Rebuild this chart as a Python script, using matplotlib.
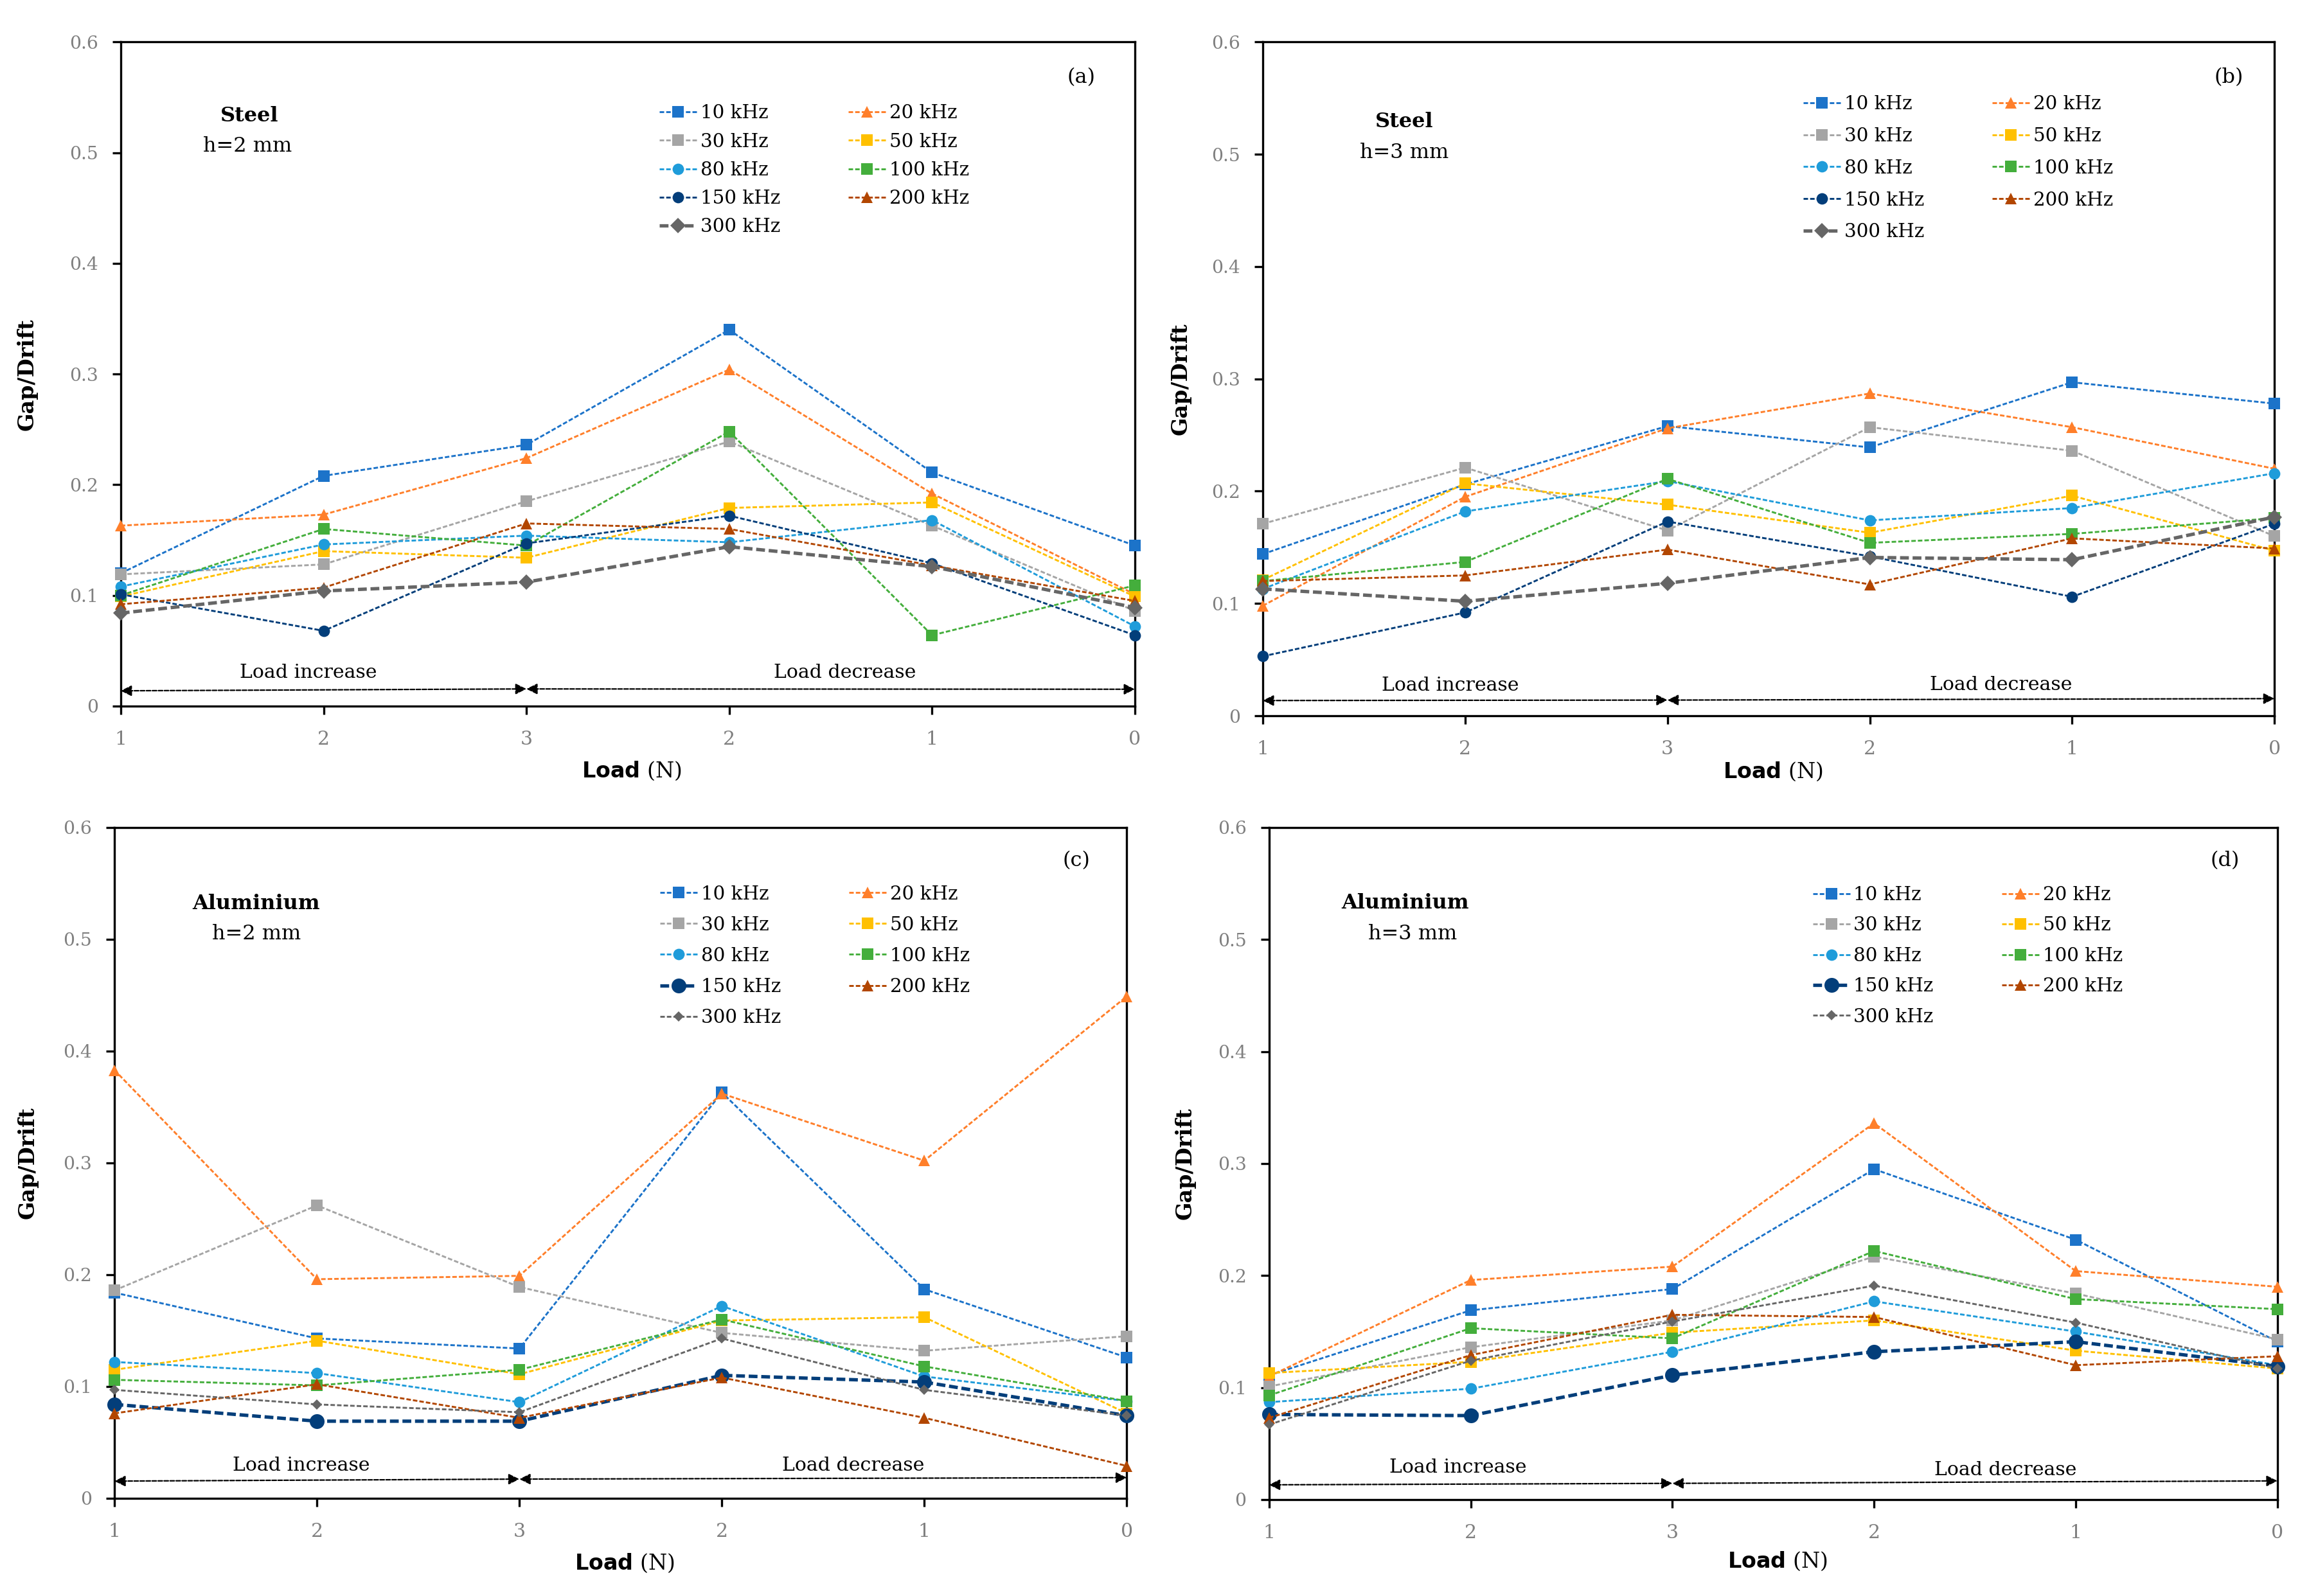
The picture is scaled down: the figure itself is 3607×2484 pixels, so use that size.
import matplotlib
matplotlib.use('Agg')
import matplotlib.pyplot as plt

plt.rcParams['font.family'] = ['DejaVu Serif']

# ---------------- data ----------------
x_labels = ['1', '2', '3', '2', '1', '0']
series_names = ['10 kHz', '20 kHz', '30 kHz', '50 kHz', '80 kHz',
                '100 kHz', '150 kHz', '200 kHz', '300 kHz']
ytick_vals = [0, 0.1, 0.2, 0.3, 0.4, 0.5, 0.6]
ytick_labels = ['0', '0.1', '0.2', '0.3', '0.4', '0.5', '0.6']

# (a) Steel h=2 mm
a10 = [0.120, 0.208, 0.236, 0.340, 0.211, 0.145]
a20 = [0.163, 0.173, 0.224, 0.304, 0.192, 0.101]
a30 = [0.119, 0.128, 0.185, 0.239, 0.163, 0.086]
a50 = [0.099, 0.140, 0.134, 0.179, 0.184, 0.099]
a80 = [0.108, 0.146, 0.154, 0.148, 0.168, 0.072]
a100 = [0.100, 0.160, 0.145, 0.248, 0.064, 0.109]
a150 = [0.101, 0.068, 0.147, 0.172, 0.129, 0.064]
a200 = [0.092, 0.107, 0.165, 0.160, 0.127, 0.095]
a300 = [0.084, 0.104, 0.112, 0.144, 0.126, 0.089]

# (b) Steel h=3 mm
b10 = [0.144, 0.206, 0.258, 0.239, 0.297, 0.278]
b20 = [0.098, 0.195, 0.256, 0.287, 0.257, 0.220]
b30 = [0.171, 0.221, 0.165, 0.257, 0.236, 0.160]
b50 = [0.121, 0.207, 0.188, 0.163, 0.196, 0.147]
b80 = [0.113, 0.182, 0.209, 0.174, 0.185, 0.216]
b100 = [0.120, 0.137, 0.211, 0.154, 0.162, 0.176]
b150 = [0.053, 0.092, 0.173, 0.142, 0.106, 0.171]
b200 = [0.120, 0.125, 0.148, 0.117, 0.158, 0.149]
b300 = [0.113, 0.102, 0.118, 0.141, 0.139, 0.177]

# (c) Aluminium h=2 mm
c10 = [0.184, 0.143, 0.134, 0.363, 0.187, 0.126]
c20 = [0.383, 0.196, 0.199, 0.362, 0.302, 0.449]
c30 = [0.186, 0.262, 0.189, 0.148, 0.132, 0.145]
c50 = [0.115, 0.141, 0.111, 0.159, 0.162, 0.076]
c80 = [0.122, 0.112, 0.086, 0.172, 0.109, 0.087]
c100 = [0.106, 0.101, 0.115, 0.160, 0.118, 0.087]
c150 = [0.084, 0.069, 0.069, 0.110, 0.104, 0.074]
c200 = [0.076, 0.102, 0.072, 0.108, 0.072, 0.029]
c300 = [0.097, 0.084, 0.077, 0.143, 0.097, 0.074]

# (d) Aluminium h=3 mm
d10 = [0.111, 0.169, 0.188, 0.295, 0.232, 0.141]
d20 = [0.110, 0.196, 0.208, 0.336, 0.204, 0.190]
d30 = [0.101, 0.136, 0.160, 0.217, 0.184, 0.143]
d50 = [0.113, 0.123, 0.149, 0.160, 0.133, 0.117]
d80 = [0.087, 0.099, 0.132, 0.177, 0.150, 0.120]
d100 = [0.093, 0.153, 0.144, 0.222, 0.179, 0.170]
d150 = [0.076, 0.075, 0.111, 0.132, 0.141, 0.119]
d200 = [0.073, 0.129, 0.165, 0.163, 0.120, 0.128]
d300 = [0.067, 0.124, 0.159, 0.191, 0.158, 0.117]

# ---------------- styles ----------------
colors = ['#1C73C9', '#FF7F2A', '#A5A5A5', '#FFC000', '#1F9CDA',
          '#44AE3C', '#033E7A', '#B24600', '#666666']
markers = ['s', '^', 's', 's', 'o', 's', 'o', '^', 'D']

W, H, DPI = 3607, 2484, 200
fig = plt.figure(figsize=(W / DPI, H / DPI), dpi=DPI)

panels = [
    dict(rect=[0.0521, 0.5576, 0.4375, 0.4161], series=[a10, a20, a30, a50, a80, a100, a150, a200, a300],
         tag='(a)', tagpos=(0.947, 0.947), mat='Steel', matpos=(0.127, 0.889), h='h=2 mm', hpos=(0.125, 0.843),
         leg=(0.531, 0.906), lsp=0.55, thick=8,
         inc=(0.926, 0.030), dec=(3.57, 0.030), arr=[(0, 0.0138, 2, 0.0155), (2, 0.0155, 5, 0.0152)],
         ylab_x=-0.082, xlab_y=-0.081),
    dict(rect=[0.5448, 0.5515, 0.4364, 0.4222], series=[b10, b20, b30, b50, b80, b100, b150, b200, b300],
         tag='(b)', tagpos=(0.955, 0.947), mat='Steel', matpos=(0.140, 0.882), h='h=3 mm', hpos=(0.140, 0.836),
         leg=(0.534, 0.921), lsp=0.74, thick=8,
         inc=(0.928, 0.0267), dec=(3.65, 0.0276), arr=[(0, 0.0136, 2, 0.0140), (2, 0.0140, 5, 0.0153)],
         ylab_x=-0.0705, xlab_y=-0.066),
    dict(rect=[0.0494, 0.0612, 0.4367, 0.4203], series=[c10, c20, c30, c50, c80, c100, c150, c200, c300],
         tag='(c)', tagpos=(0.950, 0.951), mat='Aluminium', matpos=(0.140, 0.886), h='h=2 mm', hpos=(0.140, 0.841),
         leg=(0.539, 0.914), lsp=0.68, thick=6,
         inc=(0.921, 0.0295), dec=(3.65, 0.0295), arr=[(0, 0.0154, 2, 0.0172), (2, 0.0172, 5, 0.0185)],
         ylab_x=-0.075, xlab_y=-0.0795),
    dict(rect=[0.5475, 0.0604, 0.4350, 0.4211], series=[d10, d20, d30, d50, d80, d100, d150, d200, d300],
         tag='(d)', tagpos=(0.948, 0.951), mat='Aluminium', matpos=(0.135, 0.888), h='h=3 mm', hpos=(0.142, 0.842),
         leg=(0.539, 0.913), lsp=0.66, thick=6,
         inc=(0.936, 0.0286), dec=(3.65, 0.0264), arr=[(0, 0.0132, 2, 0.0145), (2, 0.0145, 5, 0.0167)],
         ylab_x=-0.073, xlab_y=-0.0755),
]

x = list(range(len(x_labels)))

for p in panels:
    ax = fig.add_axes(p['rect'])
    handles = []
    for i, (name, vals) in enumerate(zip(series_names, p['series'])):
        thick = (i == p['thick'])
        if thick:
            lw, ms, ls = 1.9, (6.0 if markers[i] == 'D' else 8.3), (0, (2.6, 1.1))
        else:
            lw = 1.05
            ls = (0, (2.4, 1.1))
            if markers[i] == 'o':
                ms = 6.4
            elif markers[i] == '^':
                ms = 6.6
            elif markers[i] == 'D':
                ms = 4.3
            else:
                ms = 6.3
        ln, = ax.plot(x, vals, color=colors[i], marker=markers[i], markersize=ms,
                      markeredgewidth=0, linewidth=lw, linestyle=ls, label=name,
                      clip_on=False, zorder=3 + i * 0.01)
        handles.append(ln)

    ax.set_xlim(0, 5)
    ax.set_ylim(0, 0.6)
    ax.set_xticks(x)
    ax.set_xticklabels(x_labels)
    ax.set_yticks(ytick_vals)
    ax.set_yticklabels(ytick_labels)
    for s in ax.spines.values():
        s.set_linewidth(1.2)
        s.set_color('black')
    ax.tick_params(axis='y', direction='out', length=4.7, width=1.2, pad=8.0,
                   labelsize=10.2, labelcolor='#808080', color='black')
    ax.tick_params(axis='x', direction='out', length=4.7, width=1.2, pad=9.0,
                   labelsize=10.8, labelcolor='#808080', color='black')

    ax.set_ylabel('Gap/Drift', fontsize=12, fontweight='bold')
    ax.yaxis.set_label_coords(p['ylab_x'], 0.5)
    ax.set_xlabel(r'$\mathbf{Load}$ (N)', fontsize=12)
    ax.xaxis.set_label_coords(0.504, p['xlab_y'])

    order = [0, 2, 4, 6, 8, 1, 3, 5, 7]
    ax.legend([handles[k] for k in order], [series_names[k] for k in order],
              ncol=2, loc='upper left', bbox_to_anchor=p['leg'], frameon=False,
              fontsize=10.6, handlelength=1.97, handletextpad=0.2, columnspacing=3.6,
              labelspacing=p['lsp'], borderpad=0, borderaxespad=0)

    ax.text(*p['tagpos'], p['tag'], transform=ax.transAxes, ha='center', va='center', fontsize=11.5)
    ax.text(*p['matpos'], p['mat'], transform=ax.transAxes, ha='center', va='center',
            fontsize=11.5, fontweight='bold')
    ax.text(*p['hpos'], p['h'], transform=ax.transAxes, ha='center', va='center', fontsize=11.5)

    ax.text(*p['inc'], 'Load increase', ha='center', va='center', fontsize=10.8)
    ax.text(*p['dec'], 'Load decrease', ha='center', va='center', fontsize=10.8)
    for (x0, y0, x1, y1) in p['arr']:
        ax.annotate('', xy=(x1, y1), xytext=(x0, y0),
                    arrowprops=dict(arrowstyle='<|-|>,head_length=0.5,head_width=0.25',
                                    color='black', lw=0.8, linestyle=(0, (3, 1.2)),
                                    shrinkA=0, shrinkB=0, mutation_scale=10))

fig.savefig('out.png', dpi=DPI)
